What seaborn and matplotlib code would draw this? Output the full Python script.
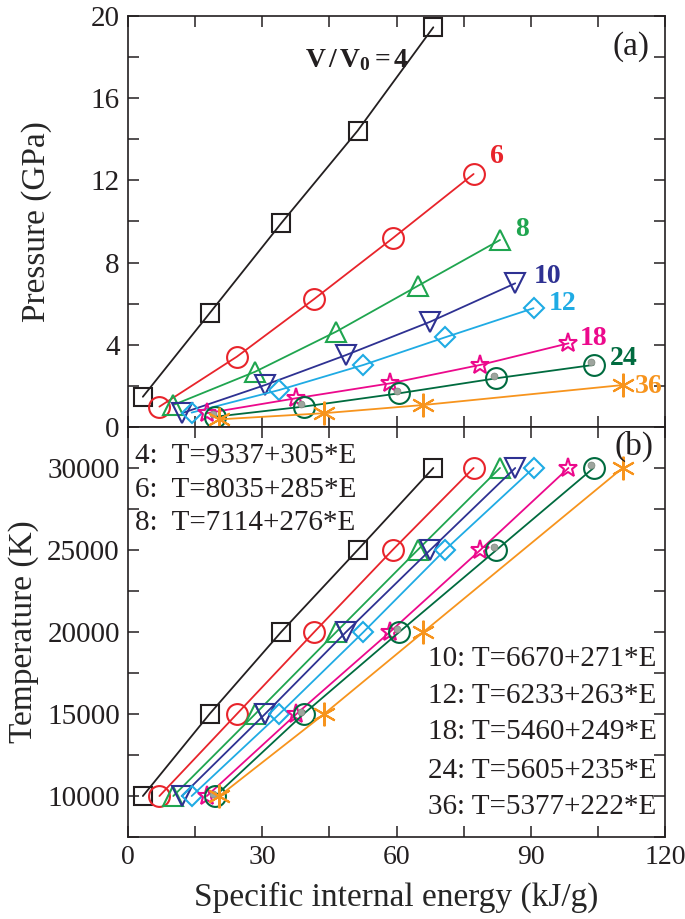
import matplotlib
matplotlib.use("Agg")
import matplotlib.pyplot as plt
import matplotlib.transforms as mtransforms
from matplotlib.ticker import MultipleLocator
import seaborn as sns
import pandas as pd

sns.set_theme(style="ticks")
plt.rcParams['font.family'] = ['Liberation Serif', 'DejaVu Serif']
plt.rcParams['mathtext.fontset'] = 'custom'
plt.rcParams['mathtext.rm'] = 'Liberation Serif'
plt.rcParams['mathtext.bf'] = 'Liberation Serif:bold'
plt.rcParams['mathtext.it'] = 'Liberation Serif:italic'

# ---------------- data ----------------
volumes = ["4", "6", "8", "10", "12", "18", "24", "36"]
E4 = [3.3, 18.2, 34.2, 51.3, 68.2]
E6 = [7.0, 24.3, 41.6, 59.1, 77.2]
E8 = [10.1, 28.4, 46.5, 64.7, 83.1]
E10 = [12.0, 30.6, 48.7, 67.5, 86.5]
E12 = [14.2, 33.8, 52.6, 70.8, 90.6]
E18 = [17.6, 37.6, 58.5, 78.7, 98.4]
E24 = [19.5, 39.2, 60.6, 82.3, 104.0]
E36 = [20.4, 43.8, 66.0, 110.5]
P4 = [1.47, 5.53, 9.91, 14.42, 19.45]
P6 = [0.99, 3.42, 6.23, 9.18, 12.31]
P8 = [1.07, 2.69, 4.64, 6.86, 9.10]
P10 = [0.67, 2.04, 3.50, 5.12, 6.99]
P12 = [0.70, 1.80, 3.02, 4.36, 5.78]
P18 = [0.67, 1.40, 2.12, 3.02, 4.07]
P24 = [0.50, 0.99, 1.64, 2.37, 3.02]
P36 = [0.37, 0.67, 1.07, 2.04]
T_all = [10000, 15000, 20000, 25000, 30000]
T36 = [10000, 15000, 20000, 30000]
fits = ["T=9337+305*E", "T=8035+285*E", "T=7114+276*E", "T=6670+271*E",
        "T=6233+263*E", "T=5460+249*E", "T=5605+235*E", "T=5377+222*E"]

energies = [E4, E6, E8, E10, E12, E18, E24, E36]
pressures = [P4, P6, P8, P10, P12, P18, P24, P36]
temps = [T_all] * 7 + [T36]

colors = ["#231f20", "#e8242b", "#1fa54f", "#2e3192", "#1fabe4", "#ec098c", "#006b3f", "#f7941d"]
markers = ["s", "o", "^", "v", "D", "*", "o", (6, 2, 0)]
msizes = [12.5, 15, 14, 14, 10.5, 14, 15, 17]

fig = plt.figure(figsize=(6.85, 9.19), dpi=100)
ax_top = fig.add_axes([0.187, 0.5354, 0.784, 0.4472])
ax_bot = fig.add_axes([0.187, 0.0892, 0.784, 0.4462])

for i, v in enumerate(volumes):
    df = pd.DataFrame({"E": energies[i], "P": pressures[i], "T": temps[i]})
    for ax, ycol in ((ax_top, "P"), (ax_bot, "T")):
        sns.lineplot(data=df, x="E", y=ycol, ax=ax, color=colors[i], marker=markers[i],
                     markersize=msizes[i], markerfacecolor="none", markeredgecolor=colors[i],
                     markeredgewidth=1.5, linewidth=1.3, sort=False, estimator=None)
        if v == "24":
            tr = mtransforms.offset_copy(ax.transData, fig=fig, x=-1.8, y=1.8, units="points")
            ax.plot(df["E"], df[ycol], linestyle="none", marker="o", markersize=5,
                    color="#9ea59e", markeredgecolor="#7d877d", markeredgewidth=0.5, transform=tr)

for ax in (ax_top, ax_bot):
    ax.set_xlim(0, 120)
    ax.xaxis.set_major_locator(MultipleLocator(30))
    ax.xaxis.set_minor_locator(MultipleLocator(15))
    ax.tick_params(which="both", direction="in", top=True, right=True, width=1.1,
                   labelsize=21, colors="#231f20", pad=6, length=8)
    ax.tick_params(axis="x", labelsize=20)
    for s in ax.spines.values():
        s.set_linewidth(1.2)
        s.set_color("#231f20")

ax_top.set_ylim(0, 20)
ax_top.yaxis.set_major_locator(MultipleLocator(4))
ax_top.yaxis.set_minor_locator(MultipleLocator(2))
ax_top.set_xticklabels([])
ax_top.set_xlabel("")
ax_top.set_ylabel("Pressure (GPa)", fontsize=24, labelpad=28)

ax_bot.set_ylim(7500, 32500)
ax_bot.yaxis.set_major_locator(MultipleLocator(5000))
ax_bot.yaxis.set_minor_locator(MultipleLocator(2500))
ax_bot.set_xlabel("Specific internal energy (kJ/g)", fontsize=24, labelpad=8)
ax_bot.set_ylabel("Temperature (K)", fontsize=24, labelpad=6)

# series labels in panel (a)
ax_top.text(39.6, 17.5, r"$\mathbf{V\,/\,V_0{=}4}$", fontsize=20, color=colors[0], ha="left", va="baseline")
lab_pos = {"6": (80.9, 13.15), "8": (86.5, 9.6), "10": (90.6, 7.31), "12": (93.9, 6.02),
           "18": (101.0, 4.32), "24": (107.7, 3.34), "36": (113.3, 1.96)}
for i, v in enumerate(volumes[1:], start=1):
    x, y = lab_pos[v]
    ax_top.text(x, y, v, fontsize=20, fontweight="bold", color=colors[i], ha="left", va="center")

ax_top.text(112.4, 18.5, "(a)", fontsize=24, color="#231f20", ha="center", va="center")
ax_bot.text(113.0, 31290, "(b)", fontsize=24, color="#231f20", ha="center", va="center")

# fit equations in panel (b)
left_y = [30700, 28674, 26650]
for k in range(3):
    ax_bot.text(1.6, left_y[k], f"{volumes[k]}:  {fits[k]}", fontsize=21, color="#231f20",
                ha="left", va="center")
right_y = [18333, 16100, 13875, 11540, 9313]
for k in range(5):
    ax_bot.text(118.1, right_y[k], f"{volumes[k+3]}: {fits[k+3]}", fontsize=21, color="#231f20",
                ha="right", va="center")

fig.savefig("out.png", dpi=100)
